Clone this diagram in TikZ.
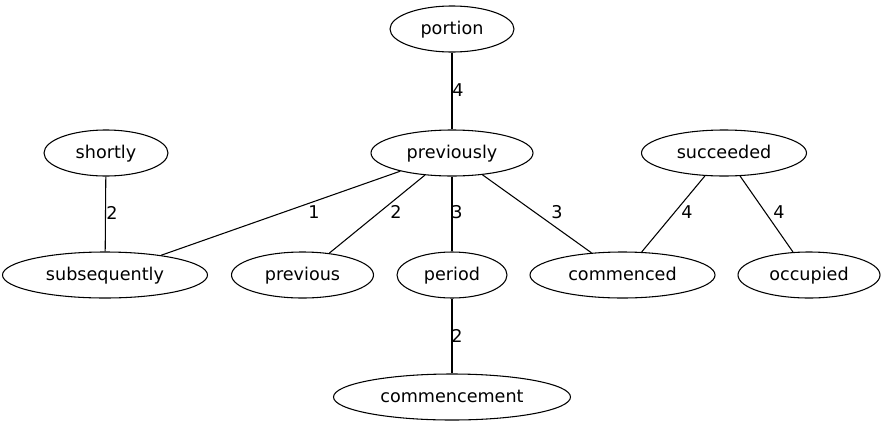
\documentclass[tikz,border=0pt]{standalone}
\usepackage{fontspec}
\setmainfont{DejaVu Sans}
\usetikzlibrary{shapes.geometric}
\begin{document}
\begin{tikzpicture}[x=0.75pt,y=-0.75pt,
  wnode/.style={draw, ellipse, line width=0.8pt, inner sep=0pt, minimum height=34.5pt, text height=0.76em, text depth=0em, font=\fontsize{13.2}{15}\selectfont},
  elabel/.style={font=\fontsize{13.2}{15}\selectfont, inner sep=0pt},
  edge/.style={line width=0.8pt}]
\useasboundingbox[fill=white] (0,0) rectangle (885,429);
\node[wnode, minimum width=93pt] (portion) at (452,29) {portion};
\node[wnode, minimum width=121.5pt] (previously) at (452,153) {previously};
\node[wnode, minimum width=93pt] (shortly) at (106,153) {shortly};
\node[wnode, minimum width=123.75pt] (succeeded) at (724,153) {succeeded};
\node[wnode, minimum width=153.75pt] (subsequently) at (105,275) {subsequently};
\node[wnode, minimum width=106.5pt] (previous) at (302.5,275) {previous};
\node[wnode, minimum width=82.5pt] (period) at (452,275) {period};
\node[wnode, minimum width=138.75pt] (commenced) at (622.5,275) {commenced};
\node[wnode, minimum width=106.5pt] (occupied) at (809,275) {occupied};
\node[wnode, minimum width=177.75pt] (commencement) at (452,397) {commencement};

\draw[edge] (portion) -- (previously);
\draw[edge] (shortly) -- (subsequently);
\draw[edge] (previously) -- (subsequently);
\draw[edge] (previously) -- (previous);
\draw[edge] (previously) -- (period);
\draw[edge] (previously) -- (commenced);
\draw[edge] (succeeded) -- (commenced);
\draw[edge] (succeeded) -- (occupied);
\draw[edge] (period) -- (commencement);

\node[elabel] (l1) at (458,90) {4};
\node[elabel] (l2) at (112,213) {2};
\node[elabel] (l3) at (314,212) {1};
\node[elabel] (l4) at (396,212) {2};
\node[elabel] (l5) at (457,212) {3};
\node[elabel] (l6) at (557,212) {3};
\node[elabel] (l7) at (687,212) {4};
\node[elabel] (l8) at (779,212) {4};
\node[elabel] (l9) at (457,336) {2};
\end{tikzpicture}
\end{document}
